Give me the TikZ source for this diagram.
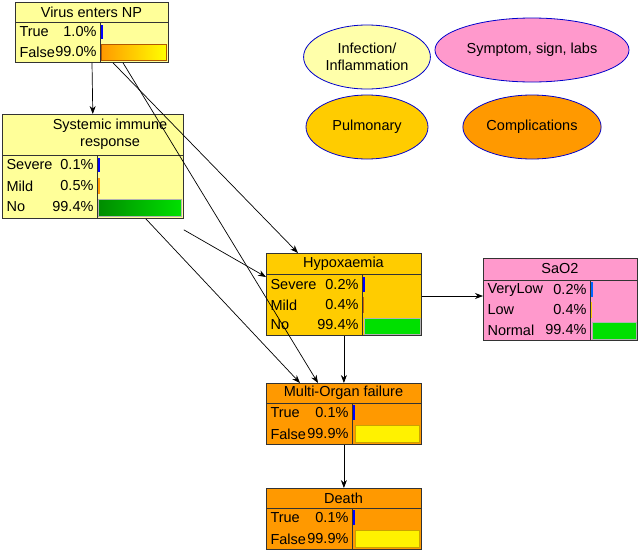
\documentclass[tikz,border=0pt]{standalone}
\usepackage{fontspec}
\setmainfont{Liberation Sans}
\usetikzlibrary{arrows.meta,shapes.geometric}
\definecolor{pyel}{HTML}{FFFF99}
\definecolor{pyel2}{HTML}{FFFFAA}
\definecolor{gold}{HTML}{FFCC00}
\definecolor{pnk}{HTML}{FF99CC}
\definecolor{orng}{HTML}{FF9900}
\definecolor{grn}{HTML}{00E000}
\begin{document}
\begin{tikzpicture}[x=1pt,y=-1pt,font=\fontsize{14.5}{16.5}\selectfont,
  box/.style={draw=black!80,line width=0.8pt,inner sep=0pt},
  ell/.style={ellipse,draw=blue!80!black,line width=0.8pt,minimum width=122pt,minimum height=64pt,align=center},
  ed/.style={-{Stealth[length=8pt,width=6pt]},line width=0.7pt},
  gbar/.style={draw=black!30,left color=green!55!black,right color=grn},
  obar/.style={draw=orange!70!black,left color=orng,right color=yellow}]
\useasboundingbox (0,0) rectangle (640,552);
% ellipses
\node[ell,fill=pyel2] (inf) at (367,57) {Infection/\\Inflammation};
\node[ell,fill=pnk] (sym) at (532,50) {Symptom, sign, labs};
\node[ell,fill=gold] (pul) at (367,127) {Pulmonary};
\node[ell,fill=orng] (com) at (532,127) {Complications};
% Virus
\node[box,fill=pyel,minimum width=153pt,minimum height=60pt,anchor=north west] (v) at (15,2) {};
\draw[black!80,line width=0.8pt] (15,22)--(168,22) (100,22)--(100,62);
\node at (91.5,12) {Virus enters NP};
\node[anchor=west] at (16,32) {True}; \node[anchor=east] at (100,32) {1.0\%};
\node[anchor=west] at (16,52) {False}; \node[anchor=east] at (100,52) {99.0\%};
\fill[blue] (101,25) rectangle (102.5,39);
\draw[obar] (101,44) rectangle (166,60);
% Systemic
\node[box,fill=pyel,minimum width=181pt,minimum height=104pt,anchor=north west] (s) at (2,114) {};
\draw[black!80,line width=0.8pt] (2,155)--(183,155) (97,155)--(97,218);
\node[align=center] at (110,134) {Systemic immune\\response};
\node[anchor=west] at (3,165) {Severe}; \node[anchor=east] at (97,165) {0.1\%};
\node[anchor=west] at (3,186) {Mild}; \node[anchor=east] at (97,186) {0.5\%};
\node[anchor=west] at (3,207) {No}; \node[anchor=east] at (97,207) {99.4\%};
\fill[blue] (98,158) rectangle (99.5,172);
\fill[orng] (98,178) rectangle (99.5,194);
\draw[gbar] (98,199) rectangle (181,216);
% Hypoxaemia
\node[box,fill=gold,minimum width=155pt,minimum height=82pt,anchor=north west] (h) at (266,253) {};
\draw[black!80,line width=0.8pt] (266,274)--(421,274) (362,274)--(362,335);
\node at (343.5,264) {Hypoxaemia};
\node[anchor=west] at (267,285) {Severe}; \node[anchor=east] at (362,285) {0.2\%};
\node[anchor=west] at (267,305) {Mild}; \node[anchor=east] at (362,305) {0.4\%};
\node[anchor=west] at (267,325) {No}; \node[anchor=east] at (362,325) {99.4\%};
\fill[blue] (363,277) rectangle (364.5,292);
\fill[orange!80!black] (363,297) rectangle (364,313);
\draw[gbar,left color=grn] (364,318) rectangle (420,334);
% SaO2
\node[box,fill=pnk,minimum width=154pt,minimum height=82pt,anchor=north west] (o) at (483,258) {};
\draw[black!80,line width=0.8pt] (483,280)--(637,280) (590,280)--(590,340);
\node at (560,269) {SaO2};
\node[anchor=west] at (484,290) {VeryLow}; \node[anchor=east] at (590,290) {0.2\%};
\node[anchor=west] at (484,310) {Low}; \node[anchor=east] at (590,310) {0.4\%};
\node[anchor=west] at (484,330) {Normal}; \node[anchor=east] at (590,330) {99.4\%};
\fill[blue!60!cyan] (591,282) rectangle (592.5,297);
\fill[gold] (591,302) rectangle (592,318);
\draw[gbar,left color=grn] (592,322) rectangle (636,339);
% Multi-organ
\node[box,fill=orng,minimum width=155pt,minimum height=61pt,anchor=north west] (m) at (266,383) {};
\draw[black!80,line width=0.8pt] (266,403)--(421,403) (352,403)--(352,444);
\node at (343.5,393) {Multi-Organ failure};
\node[anchor=west] at (267,413) {True}; \node[anchor=east] at (352,413) {0.1\%};
\node[anchor=west] at (267,434) {False}; \node[anchor=east] at (352,434) {99.9\%};
\fill[blue] (353,405) rectangle (354.5,420);
\draw[draw=gold!80!black,fill=yellow] (355,425) rectangle (419,442);
% Death
\node[box,fill=orng,minimum width=155pt,minimum height=61pt,anchor=north west] (d) at (266,488) {};
\draw[black!80,line width=0.8pt] (266,508)--(421,508) (352,508)--(352,549);
\node at (343.5,498) {Death};
\node[anchor=west] at (267,518) {True}; \node[anchor=east] at (352,518) {0.1\%};
\node[anchor=west] at (267,539) {False}; \node[anchor=east] at (352,539) {99.9\%};
\fill[blue] (353,510) rectangle (354.5,525);
\draw[draw=gold!80!black,fill=yellow] (355,530) rectangle (419,547);
% edges
\draw[ed] ([xshift=77pt]v.south west) -- ([xshift=-91pt]s.north east);
\draw[ed] ([xshift=98pt]v.south west) -- ([xshift=32pt]h.north west);
\draw[ed] ([xshift=108pt]v.south west) -- ([xshift=52pt]m.north west);
\draw[ed] ([yshift=-11pt]s.south east) -- ([yshift=-24pt]h.north west);
\draw[ed] ([xshift=-38pt]s.south east) -- ([xshift=34pt]m.north west);
\draw[ed] (h.south) -- (h.south |- m.north);
\draw[ed] ([yshift=-43pt]h.north east) -- ([yshift=-38pt]o.north west);
\draw[ed] (m.south) -- (d.north);
\end{tikzpicture}
\end{document}
